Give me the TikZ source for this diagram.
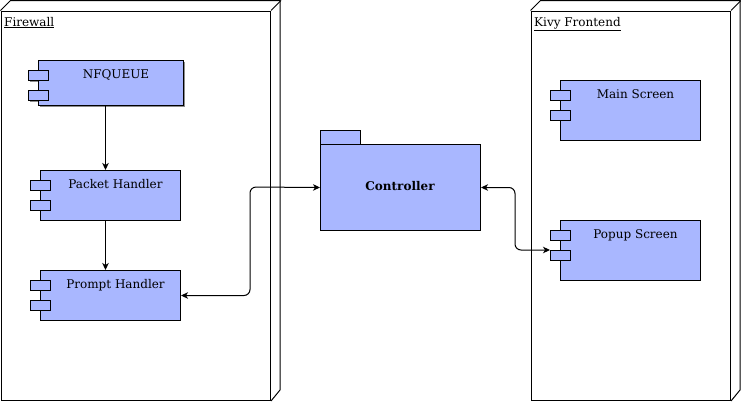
\documentclass[tikz,border=0pt]{standalone}
\usepackage{fontspec}
\setmainfont{DejaVu Serif}
\usetikzlibrary{arrows.meta}
\definecolor{compfill}{RGB}{169,183,255}
\tikzset{
  comp/.style={draw, fill=compfill, line width=1pt, anchor=north west, inner sep=0pt},
  port/.style={draw, fill=compfill, line width=1pt, minimum width=20pt, minimum height=10pt, inner sep=0pt, anchor=north west},
  shad/.style={fill=black!45, draw=none, anchor=north west, inner sep=0pt},
  lbl/.style={font=\fontsize{12}{14}\selectfont, anchor=base, inner sep=0pt},
  title/.style={font=\fontsize{12}{14}\selectfont, anchor=base west, inner sep=0pt},
  box3d/.style={draw, line width=1pt, anchor=north west, inner sep=0pt},
  edge3d/.style={line width=1pt},
  arr/.style={line width=1pt, -{Stealth[length=7pt,width=6.5pt,inset=2pt]}},
  biarr/.style={line width=1pt, {Stealth[length=7pt,width=6.5pt,inset=2pt]}-{Stealth[length=7pt,width=6.5pt,inset=2pt]}, rounded corners=6pt},
}
\begin{document}
\begin{tikzpicture}[x=1pt,y=-1pt]
\useasboundingbox (0,0) rectangle (741,402);

% Firewall 3D node
\node[box3d, minimum width=269.5pt, minimum height=389.5pt] (fw) at (0.5,10.5) {};
\draw[edge3d] (fw.north west) -- ++(10,-10) -| ++(269.5,389.5) -- (fw.south east);
\draw[edge3d] (fw.north east) -- ++(10,-10);
\node[title] (fwt) at (4,26) {\underline{Firewall}};

% Kivy Frontend 3D node
\node[box3d, minimum width=199.5pt, minimum height=389.5pt] (kv) at (530.5,10.5) {};
\draw[edge3d] (kv.north west) -- ++(10,-10) -| ++(199.5,389.5) -- (kv.south east);
\draw[edge3d] (kv.north east) -- ++(10,-10);
\node[title] (kvt) at (534,26) {\underline{Kivy Frontend}};

% NFQUEUE (with shadow)
\node[shad, minimum width=145pt, minimum height=45pt] (nfqs) at (40,62) {};
\node[shad, minimum width=20pt, minimum height=10pt] (nfqs1) at (30,72) {};
\node[shad, minimum width=20pt, minimum height=10pt] (nfqs2) at (30,92) {};
\node[comp, minimum width=145pt, minimum height=45pt] (nfq) at (38,60) {};
\node[port] (nfq1) at (28,70) {};
\node[port] (nfq2) at (28,90) {};
\path (nfq.north) ++(5,18) node[lbl] (nfqt) {NFQUEUE};

% Packet Handler
\node[comp, minimum width=140pt, minimum height=50pt] (ph) at (40,170) {};
\node[port] (ph1) at (30,180) {};
\node[port] (ph2) at (30,200) {};
\path (ph.north) ++(5,18) node[lbl] (pht) {Packet Handler};

% Prompt Handler
\node[comp, minimum width=140pt, minimum height=50pt] (pr) at (40,270) {};
\node[port] (pr1) at (30,280) {};
\node[port] (pr2) at (30,300) {};
\path (pr.north) ++(5,18) node[lbl] (prt) {Prompt Handler};

% Main Screen
\node[comp, minimum width=140pt, minimum height=60pt] (ms) at (560,80) {};
\node[port] (ms1) at (550,90) {};
\node[port] (ms2) at (550,110) {};
\path (ms.north) ++(5,18) node[lbl] (mst) {Main Screen};

% Popup Screen
\node[comp, minimum width=140pt, minimum height=60pt] (ps) at (560,220) {};
\node[port] (ps1) at (550,230) {};
\node[port] (ps2) at (550,250) {};
\path (ps.north) ++(5,18) node[lbl] (pst) {Popup Screen};

% Controller (package)
\node[comp, minimum width=40pt, minimum height=14pt] (ctab) at (320,130) {};
\node[comp, minimum width=160pt, minimum height=86pt, font=\fontsize{12}{14}\selectfont\bfseries] (ctrl) at (320,144) {};
\node[font=\fontsize{12}{14}\selectfont\bfseries, inner sep=0pt] (ctrlt) at (400,186) {Controller};

% Connectors
\draw[arr] ([xshift=-5.5pt]nfq.south) -- ([xshift=-5pt]ph.north);
\draw[arr] ([xshift=-5pt]ph.south) -- ([xshift=-5pt]pr.north);
\coordinate (lm) at (250,187);
\coordinate (rm) at (515,250);
\draw[biarr] (pr.east) -| (lm) -- (ctrl.west);
\draw[biarr] (ctrl.east) -| (rm) -- (ps2.north west);
\end{tikzpicture}
\end{document}
